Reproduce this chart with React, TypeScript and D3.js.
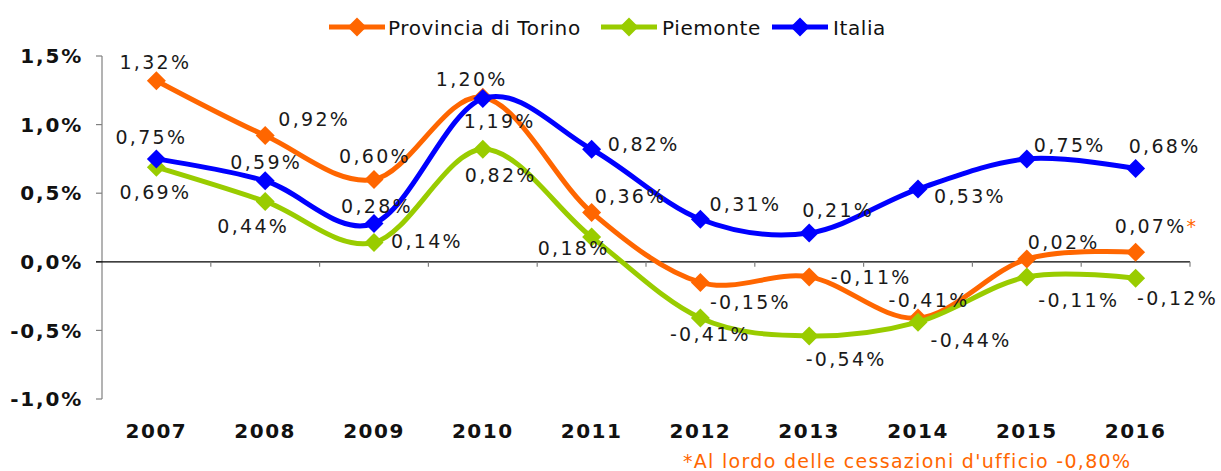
import React from 'react';
import * as d3 from 'd3';

const years = ['2007', '2008', '2009', '2010', '2011', '2012', '2013', '2014', '2015', '2016'];
const torino = [1.32, 0.92, 0.60, 1.20, 0.36, -0.15, -0.11, -0.41, 0.02, 0.07];
const piemonte = [0.69, 0.44, 0.14, 0.82, 0.18, -0.41, -0.54, -0.44, -0.11, -0.12];
const italia = [0.75, 0.59, 0.28, 1.19, 0.82, 0.31, 0.21, 0.53, 0.75, 0.68];
const yTicks = [-1.0, -0.5, 0, 0.5, 1.0, 1.5];

// label offsets (dx, dy) from each marker
const torinoLabelPos = [[-1, -19], [49, -16], [1, -23], [-11, -18], [39, -16], [50, 20], [62, 0], [11, -18], [37, -17], [21, -26]];
const piemonteLabelPos = [[-1, 25], [-12, 25], [53, -1], [18, 26], [-18, 11], [10, 16], [37, 23], [53, 18], [52, 23], [42, 20]];
const italiaLabelPos = [[-5, -22], [1, -19], [3, -17], [17, 23], [52, -5], [45, -15], [29, -23], [52, 7], [43, -14], [29, -22]];

const series = [
  {name: 'Provincia di Torino', values: torino, color: '#FF6600', labels: torinoLabelPos},
  {name: 'Piemonte', values: piemonte, color: '#99CC00', labels: piemonteLabelPos},
  {name: 'Italia', values: italia, color: '#0000FF', labels: italiaLabelPos},
];

const fmt = (v: number) => v.toFixed(2).replace('.', ',') + '%';
const fmtTick = (v: number) => v.toFixed(1).replace('.', ',') + '%';

const diamond = (cx: number, cy: number, r: number) =>
  `M${cx},${cy - r}L${cx + r},${cy}L${cx},${cy + r}L${cx - r},${cy}Z`;

export default function App() {
  const width = 1221, height = 471;
  const left = 102, right = 1190;

  const x = d3.scaleBand().domain(years).range([left, right]);
  const y = d3.scaleLinear().domain([-1.0, 1.5]).range([399, 56]);
  const cx = (i: number) => (x(years[i]) as number) + x.bandwidth() / 2;

  // excel-like smoothing
  const line = d3.line<number>()
    .x((d, i) => cx(i))
    .y(d => y(d))
    .curve(d3.curveCatmullRom.alpha(0));

  const legendItems = [
    {x: 329, textX: 388},
    {x: 601, textX: 662},
    {x: 772, textX: 833},
  ];

  return (
    <svg width={width} height={height} style={{position: 'absolute', left: 0, top: 0}}
         fontFamily="'DejaVu Sans', Verdana, sans-serif">
      <rect width={width} height={height} fill="#fff"/>

      {/* y axis */}
      <line x1={left} x2={left} y1={y(1.5)} y2={y(-1.0)} stroke="#808080" strokeWidth={1.2}/>
      {yTicks.map(t => (
        <g key={t}>
          <line x1={left - 6} x2={left} y1={y(t)} y2={y(t)} stroke="#808080" strokeWidth={1.2}/>
          <text x={83} y={y(t)} dy="0.36em" textAnchor="end" fontSize={20} fontWeight="bold"
                letterSpacing={1.8} fill="#111">{fmtTick(t)}</text>
        </g>
      ))}

      {/* zero line + x ticks */}
      <line x1={left - 6} x2={right} y1={y(0)} y2={y(0)} stroke="#000" strokeWidth={1.2}/>
      {years.map((yr, i) => (
        <g key={yr}>
          <line x1={(x(yr) as number) + x.bandwidth()} x2={(x(yr) as number) + x.bandwidth()}
                y1={y(0)} y2={y(0) + 5} stroke="#808080" strokeWidth={1.2}/>
          <text x={cx(i)} y={438} textAnchor="middle" fontSize={20} fontWeight="bold"
                letterSpacing={1.5} fill="#111">{yr}</text>
        </g>
      ))}

      {/* lines */}
      {series.map(s => (
        <g key={s.name}>
          <path d={line(s.values) as string} fill="none" stroke={s.color} strokeWidth={5}
                strokeLinejoin="round"/>
          {s.values.map((v, i) => (
            <path key={i} d={diamond(cx(i), y(v), 9.5)} fill={s.color}/>
          ))}
        </g>
      ))}

      {/* data labels */}
      {series.map(s => (
        <g key={s.name + '-lab'}>
          {s.values.map((v, i) => (
            <text key={i} x={cx(i) + s.labels[i][0]} y={y(v) + s.labels[i][1]} dy="0.36em"
                  textAnchor="middle" fontSize={19} letterSpacing={2.3} fill="#1a1a1a">
              {fmt(v)}
              {s.name === 'Provincia di Torino' && i === years.length - 1 &&
                <tspan fill="#FF6600">*</tspan>}
            </text>
          ))}
        </g>
      ))}

      {/* legend */}
      {series.map((s, k) => (
        <g key={s.name + '-leg'}>
          <line x1={legendItems[k].x} x2={legendItems[k].x + 56} y1={27} y2={27}
                stroke={s.color} strokeWidth={5}/>
          <path d={diamond(legendItems[k].x + 28, 27, 9.5)} fill={s.color}/>
          <text x={legendItems[k].textX} y={28} dy="0.36em" fontSize={20} letterSpacing={0.6}
                fill="#111">{s.name}</text>
        </g>
      ))}

      {/* footnote */}
      <text x={683} y={468} fontSize={19} letterSpacing={1.3} fill="#FF6600">
        *Al lordo delle cessazioni d'ufficio -0,80%
      </text>
    </svg>
  );
}
